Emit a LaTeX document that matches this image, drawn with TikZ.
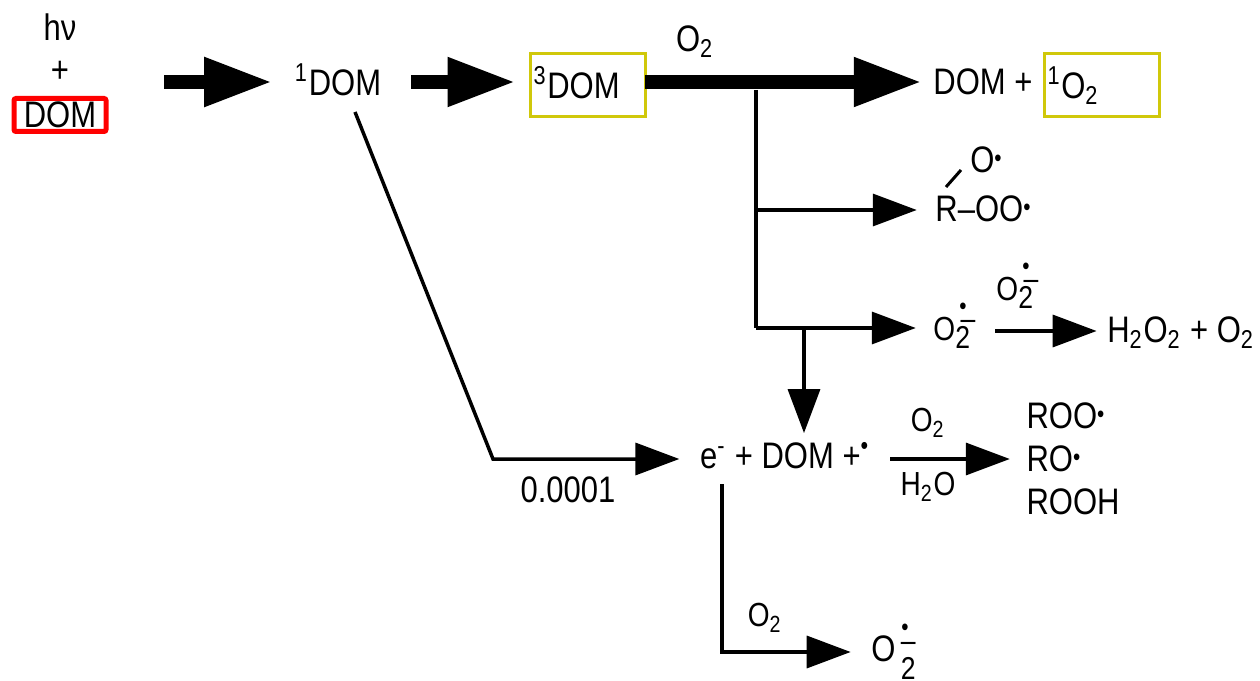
\documentclass[tikz,border=0pt]{standalone}
\usepackage{fontspec}
\setmainfont[FakeStretch=0.84]{Liberation Sans}
\usetikzlibrary{shapes, arrows.meta, positioning}
\newcommand{\radot}{\raisebox{.3ex}{\scriptsize •}}
\newcommand{\superox}{O\rlap{\raisebox{-.5ex}{\small 2}}\rlap{\raisebox{.6ex}{\small\,–}}\raisebox{1.45ex}{\hspace{.12em}\scriptsize •}}
\newcommand{\superoxlow}{O\rlap{\raisebox{-.95ex}{\small\,2}}\rlap{\raisebox{.5ex}{\small\,–}}\raisebox{1.3ex}{\hspace{.16em}\scriptsize •}}
\definecolor{boxyellow}{RGB}{208,200,10}
\tikzstyle{every node}=[font=\fontsize{10.5}{12.2}\selectfont,inner sep=0pt]
\tikzstyle{small label}=[font=\fontsize{9.5}{11}\selectfont]
\tikzstyle{yellowblock}=[draw=boxyellow,line width=.3mm,rectangle,minimum height=6.3mm,text width=10.8mm,inner xsep=.35mm,align=left]
\tikzstyle{redblock}=[draw=red,line width=.5mm,rounded corners=.2mm,rectangle,minimum height=3.3mm,minimum width=9.2mm]
\tikzstyle{bigarrow}=[line width=1.4mm,-{Triangle[length=6.8mm,width=4.6mm]}]
\tikzstyle{thinarrow}=[line width=.35mm,-{Triangle[length=4.4mm,width=3.2mm]}]

\begin{document}
\begin{tikzpicture}[x=.1mm,y=-.1mm,auto,node distance=1cm]
    \useasboundingbox (0,0) rectangle (1260,681);
    \node (light) at (60,27) {hν};
    \node[below of=light,node distance=4.5mm] (plus) {+};
    \node[redblock,below of=plus,node distance=4.3mm] (dom) {DOM};
    \node (singletdom) at (338,80) {\textsuperscript{1}DOM};
    \node[yellowblock,right of=singletdom,node distance=24.95mm,yshift=-.55mm] (tripletdom) {\raisebox{.3ex}{\textsuperscript{3}DOM}};
    \node (oxa) at (695,42) {O\textsubscript{2}};
    \node (groundplus) at (983,82) {DOM +};
    \node[yellowblock,right of=tripletdom,node distance=51.4mm] (singletox) {\textsuperscript{1}O\textsubscript{2}};
    \node (perox) at (983,209) {R--OO\radot};
    \node (alkoxy) at (986,160) {O\radot};
    \node[small label] (superox) at (950,326) {\superox};
    \node[small label] (superoxb) at (1013,286) {\superox};
    \node (peroxide) at (1181,333) {H\textsubscript{2}O\textsubscript{2} + O\textsubscript{2}};
    \node (radical) at (785,456) {e\textsuperscript{-} + DOM +\textsuperscript{•}};
    \node[small label] (oxb) at (928,423) {O\textsubscript{2}};
    \node[small label] (water) at (928,487) {H\textsubscript{2}O};
    \node[align=left] (products) at (1073,459) {ROO\radot\\RO\radot\\ROOH};
    \node (yield) at (568,490) {0.0001};
    \node[small label] (oxc) at (765,618) {O\textsubscript{2}};
    \node (superoxc) at (890,652) {\superoxlow};

    \coordinate (bigstart) at (164,82);
    \coordinate (dommid) at (411,82);
    \coordinate (tripend) at (645,82);
    \coordinate (branchtop) at (756,90);
    \coordinate (branchmid) at (756,210);
    \coordinate (branchlow) at (756,328);
    \coordinate (branchdown) at (804,328);
    \coordinate (singletfoot) at (355,112);
    \coordinate (knee) at (493,459);
    \coordinate (efoot) at (722,484);
    \coordinate (ekink) at (722,652);
    \coordinate (bonda) at (946,187);
    \coordinate (bondb) at (961,170);
    \coordinate (disstart) at (995,331);
    \coordinate (radstart) at (890,459);

    \draw[bigarrow] (bigstart) -- (bigstart -| singletdom.west) [shorten >=2.2mm];
    \draw[bigarrow] (dommid) -- (dommid -| tripletdom.west) [shorten >=1.3mm];
    \draw[bigarrow] (tripend) -- (tripend -| groundplus.west) [shorten >=1.1mm];
    \draw[line width=.35mm] (branchtop) -- (branchlow);
    \draw[thinarrow] (branchmid) -- (branchmid -| perox.west) [shorten >=1.8mm];
    \draw[thinarrow] (branchlow) -- (branchlow -| superox.west) [shorten >=1.7mm];
    \draw[thinarrow] (branchdown) -- (branchdown |- radical.north) [shorten >=.9mm];
    \draw[thinarrow] (disstart) -- (disstart -| peroxide.west) [shorten >=1mm];
    \draw[thinarrow] (radstart) -- (radstart -| products.west) [shorten >=1.6mm];
    \draw[thinarrow] (singletfoot) -- (knee) -- (knee -| radical.west) [shorten >=2mm];
    \draw[thinarrow] (efoot) -- (ekink) -- (ekink -| superoxc.west) [shorten >=2mm];
    \draw[line width=.3mm] (bonda) -- (bondb);
\end{tikzpicture}
\end{document}
